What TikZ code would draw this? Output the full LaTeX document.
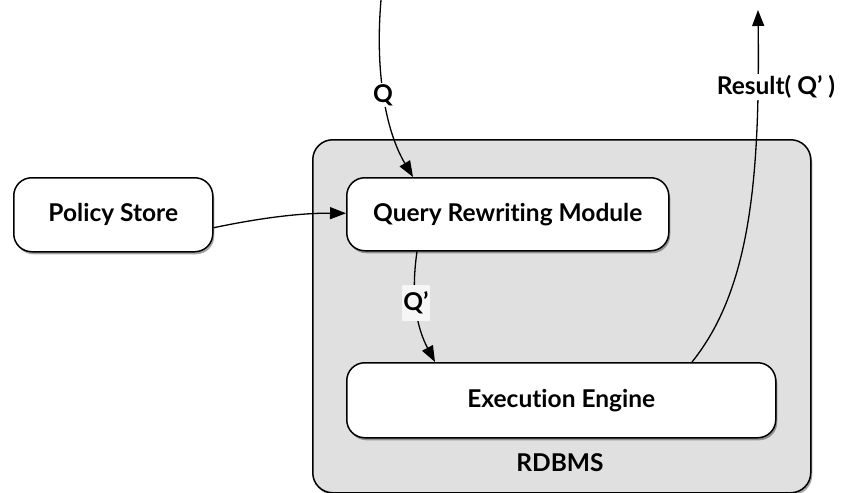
\documentclass[tikz,border=0pt]{standalone}
\usepackage{fontspec}
\setmainfont{Lato}[Ligatures=NoCommon]
\usetikzlibrary{arrows.meta,shadows,calc}
\definecolor{panelgray}{HTML}{E0E0E0}
\definecolor{labelbg}{HTML}{F6F6F6}
\tikzset{
  module/.style={draw=black, line width=1.5pt, fill=white, rounded corners=18pt,
    font=\fontsize{24.5}{27}\selectfont\bfseries, align=center,
    drop shadow={shadow xshift=1.5pt, shadow yshift=-2.5pt, opacity=0.35, fill=black}},
  panel/.style={draw=black, line width=1.5pt, fill=panelgray, rounded corners=20pt,
    drop shadow={shadow xshift=1.5pt, shadow yshift=-2.5pt, opacity=0.35, fill=black}},
  flow/.style={line width=1.3pt, -{Triangle[length=16pt,width=12pt]}},
  tag/.style={font=\fontsize{24.5}{27}\selectfont\bfseries, inner sep=2pt}
}
\begin{document}
\begin{tikzpicture}[x=1pt,y=-1pt]
  \useasboundingbox (0,0) rectangle (844,493);

  % RDBMS container
  \node[panel, minimum width=498pt, minimum height=353pt, anchor=north west] (rdbms) at (312,139) {};
  \node[tag] (rdbmslabel) at (560,463) {RDBMS};

  % Modules
  \node[module, minimum width=199pt, minimum height=74pt, anchor=north west] (ps) at (13,177) {Policy Store};
  \node[module, minimum width=322pt, minimum height=73pt, anchor=north west] (qrm) at (346,177) {Query Rewriting Module};
  \node[module, minimum width=429pt, minimum height=75pt, anchor=north west] (ee) at (346,362) {Execution Engine};

  % Free ends of the incoming query and outgoing result
  \coordinate (qin) at (381,0);
  \coordinate (rout) at (758,10);

  % Incoming query
  \draw[flow] (qin) .. controls (375,70) and (385,130) .. ([xshift=67pt]qrm.north west);
  \node[tag, fill=white, inner sep=1pt] (qlabel) at (383,95) {Q};

  % Policy lookup
  \draw[flow] ([yshift=-13pt]ps.east) .. controls (260,218) and (300,213) .. ([yshift=1pt]qrm.west);

  % Rewritten query
  \draw[flow] ([xshift=71pt]qrm.south west) .. controls (410,300) and (418,330) .. ([xshift=89pt]ee.north west);
  \node[tag, fill=labelbg, inner sep=1pt, minimum width=27pt, minimum height=36pt] (qplabel) at (416,303) {Q’};

  % Result returned
  \draw[flow] ([xshift=346pt]ee.north west) .. controls (750,290) and (760,180) .. (rout);
  \node[tag, fill=white, inner sep=1pt] (rlabel) at (776,87) {Result( Q’ )};
\end{tikzpicture}
\end{document}
